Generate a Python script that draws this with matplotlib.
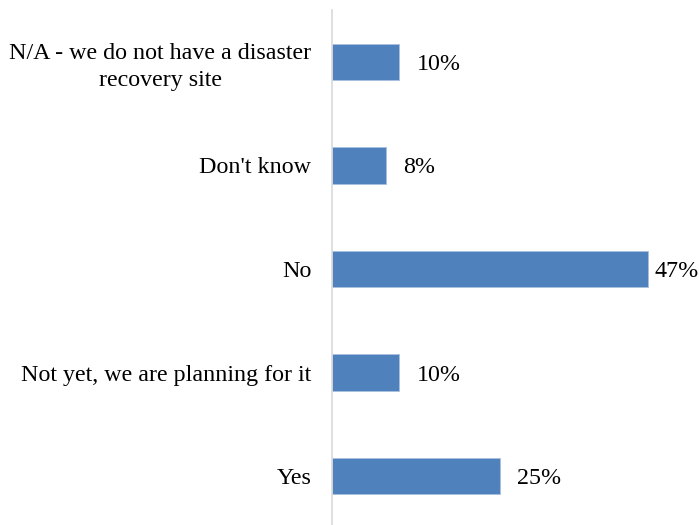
import matplotlib
matplotlib.use("Agg")
import matplotlib.pyplot as plt

# survey answers, bottom to top
answers = ["Yes", "Not yet, we are planning for it", "No", "Don't know",
           "N/A - we do not have a disaster\nrecovery site"]
shares = [25, 10, 47, 8, 10]

plt.rcParams['font.family'] = ['Liberation Serif', 'DejaVu Serif']

fig = plt.figure(figsize=(6.99, 5.25), dpi=100)
ax = fig.add_axes([332 / 699, -3 / 525, 367 / 699, 518 / 525])

pos = range(len(answers))
ax.barh(pos, shares, height=0.35, color='#4F81BD', edgecolor='#A9C0DE', linewidth=0.6)
for p, v in zip(pos, shares):
    # the longest bar's label is pulled in so it stays inside the figure
    gap = 5 if v == max(shares) else 12.5
    ax.annotate(f"{v}%", (v, p), xytext=(gap, 0), textcoords='offset points',
                va='center_baseline', ha='left', fontsize=17.3, annotation_clip=False)

ax.set_xlim(0, 54.6)
ax.set_ylim(-0.5, len(answers) - 0.5)
ax.set_yticks(list(pos))
ax.set_yticklabels(answers, fontsize=17.3, ha='right', multialignment='center',
                   linespacing=1.35)
ax.tick_params(axis='y', length=0, pad=15)
ax.set_xticks([])
for side in ['top', 'right', 'bottom']:
    ax.spines[side].set_visible(False)
ax.spines['left'].set_color('#D9D9D9')
ax.spines['left'].set_linewidth(1.2)

fig.savefig("out.png", dpi=100)
